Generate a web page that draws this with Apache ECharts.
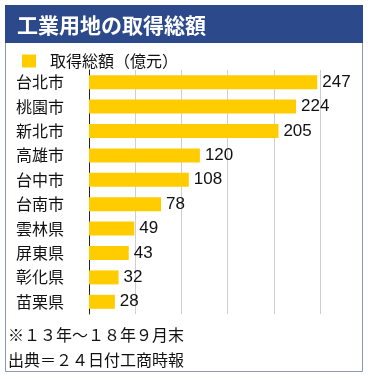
<!DOCTYPE html>
<html>
<head>
<meta charset="utf-8">
<script src="https://cdn.jsdelivr.net/npm/echarts@6/dist/echarts.min.js"></script>
<style>
html,body{margin:0;padding:0;background:#fff;}
#chart{width:371px;height:379px;}
</style>
</head>
<body>
<div id="chart"></div>
<script>
const titleText = '工業用地の取得総額';
const seriesName = '取得総額（億元）';
const categories = ['台北市','桃園市','新北市','高雄市','台中市','台南市','雲林県','屏東県','彰化県','苗栗県'];
const values = [247,224,205,120,108,78,49,43,32,28];
const notes = ['※１３年～１８年９月末','出典＝２４日付工商時報'];

const cjk = '"Hiragino Sans","Noto Sans CJK JP",sans-serif';
const num = '"Liberation Sans","Noto Sans CJK JP",sans-serif';

const chart = echarts.init(document.getElementById('chart'));
chart.setOption({
  backgroundColor: '#ffffff',
  animation: false,
  title: {
    text: titleText,
    left: 12,
    top: 10,
    textStyle: { color: '#ffffff', fontSize: 21, fontWeight: 'bold', fontFamily: cjk }
  },
  legend: {
    left: 17,
    top: 48,
    itemWidth: 14,
    itemHeight: 13,
    icon: 'rect',
    textStyle: { fontSize: 16, color: '#111', fontFamily: cjk, padding: [0,0,0,9] },
    data: [seriesName]
  },
  grid: { left: 89, right: 51, top: 70, bottom: 65, containLabel: false },
  xAxis: {
    type: 'value', min: 0, max: 250, interval: 50,
    axisLabel: { show: false }, axisTick: { show: false }, axisLine: { show: false },
    splitLine: { show: true, lineStyle: { color: '#cfcfcf', width: 1 } }
  },
  yAxis: {
    type: 'category', inverse: true, data: categories,
    axisTick: { show: false },
    axisLine: { show: true, lineStyle: { color: '#222', width: 1 } },
    axisLabel: { fontSize: 16, color: '#111', margin: 25, fontFamily: cjk }
  },
  series: [{
    name: seriesName,
    type: 'bar',
    data: values,
    barWidth: 14,
    itemStyle: { color: '#ffcc00' },
    label: { show: true, position: 'right', distance: 5, fontSize: 17, color: '#111', fontFamily: num }
  }],
  graphic: [
    { type: 'rect', z: -10, shape: { x: 5.5, y: 5.5, width: 357, height: 366 }, style: { fill: 'none', stroke: '#8d98b2', lineWidth: 1 } },
    { type: 'rect', z: -9, shape: { x: 5, y: 5, width: 358, height: 38 }, style: { fill: '#2c4a8b' } },
    { type: 'text', style: { text: notes[0], x: 8, y: 335, verticalAlign: 'middle', font: '16px ' + cjk, fill: '#111' } },
    { type: 'text', style: { text: notes[1], x: 8, y: 360, verticalAlign: 'middle', font: '16px ' + cjk, fill: '#111' } }
  ]
});
</script>
</body>
</html>
